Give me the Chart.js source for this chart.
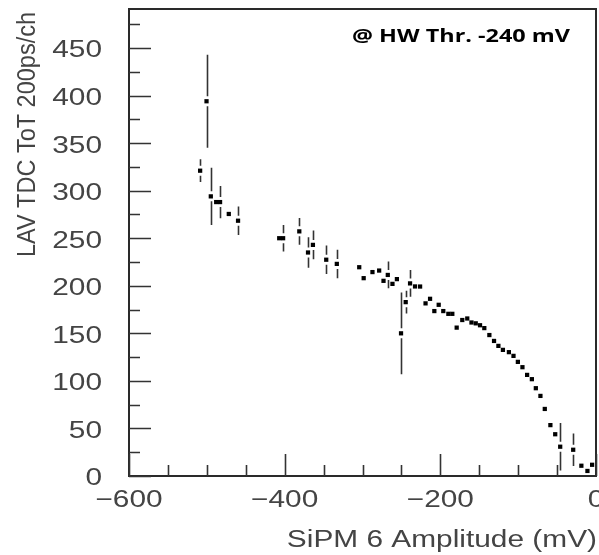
<!DOCTYPE html>
<html>
<head>
<meta charset="utf-8">
<script src="https://cdn.jsdelivr.net/npm/chart.js@4"></script>
<style>
  body { margin: 0; background: #fff; }
  #wrap { width: 599px; height: 555px; }
</style>
</head>
<body>
<div id="wrap"><canvas id="totChart" width="599" height="555"></canvas></div>
<script>
// SiPM amplitude (mV) vs mean ToT
const amp = [-508.6, -500.4, -494.9, -488, -483, -471.8, -459.9,
  -407, -402, -381.2, -370, -363.7, -346.6, -333,
  -304.2, -298.5, -287.2, -278.6, -273, -267.5, -261.5, -255.8, -250.5, -244.5, -238.9,
  -232.5, -226, -219, -213.2, -207.7, -202.1, -196.2, -189.7, -184.6, -179,
  -171.8, -165.4, -160, -154.5, -149, -143.5, -137, -131, -125.4, -119.6,
  -111.9, -106, -100.4, -94.5, -88.5, -82.4, -77.3, -71.4, -65.8,
  -58.6, -52.4, -46, -29.3, -18.8, -11, -5];
const tot = [321, 394, 294, 288, 288, 275.5, 268.4,
  250, 250, 257.2, 235, 243, 227.4, 223,
  219.5, 208, 214.4, 216, 205.2, 211.4, 202, 207, 150, 182.8, 202.5,
  199.3, 199.2, 181.5, 186.3, 173.4, 180, 173.4, 170.5, 170.5, 156,
  164, 165.6, 161.4, 160.5, 158.5, 155.5, 148.2, 142, 136.8, 132.6,
  130.2, 126.3, 120, 114.4, 106.3, 101.8, 92.3, 84.2, 70.5,
  53.5, 43.9, 30.8, 27.6, 10.8, 5.3, 11.8];
const totErr = [12, 49, 30, 4, 17, 3, 15,
  4, 14, 14, 16, 15, 15, 15,
  2, 2, 2, 2, 2, 14, 2, 2, 43, 12, 14,
  2, 2, 2, 2, 2, 2, 2, 2, 2, 2,
  2, 2, 2, 2, 2, 2, 2, 2, 2, 2,
  2, 2, 2, 2, 2, 2, 2, 2, 2,
  5, 3, 25, 17, 2, 2, 2];

const xTickLabels = [-600, -400, -200, 0];
const yTickLabels = [0, 50, 100, 150, 200, 250, 300, 350, 400, 450];
const xTitle = 'SiPM 6 Amplitude (mV)';
const yTitle = 'LAV TDC ToT 200ps/ch';
const note = '@ HW Thr. -240 mV';

const points = amp.map((a, i) => ({x: a, y: tot[i]}));

// the original picture is stretched sideways, so is its text
const stretch = 1.27;
const labelFont = '23.5px "Liberation Sans", Arial, sans-serif';

function wideText(ctx, s, x, y, sx) {
  ctx.save();
  ctx.translate(x, y);
  ctx.scale(sx, 1);
  ctx.fillText(s, 0, 0);
  ctx.restore();
}

// ROOT-like frame, inward ticks, labels and error bars
const rootStyle = {
  id: 'rootStyle',
  beforeDatasetsDraw(chart) {
    const {ctx, chartArea: ca, scales: {x, y}} = chart;
    ctx.save();
    // error bars with a gap round the marker
    ctx.strokeStyle = '#333';
    ctx.lineWidth = 1.6;
    const gap = 5;
    points.forEach((p, i) => {
      const px = Math.round(x.getPixelForValue(p.x)) + 0.5;
      const py = y.getPixelForValue(p.y);
      const top = y.getPixelForValue(p.y + totErr[i]);
      const bot = Math.min(y.getPixelForValue(p.y - totErr[i]), ca.bottom);
      ctx.beginPath();
      if (py - top > gap) { ctx.moveTo(px, top); ctx.lineTo(px, py - gap); }
      if (bot - py > gap) { ctx.moveTo(px, py + gap); ctx.lineTo(px, bot); }
      ctx.stroke();
    });
    ctx.restore();
  },
  afterDraw(chart) {
    const {ctx, chartArea: ca, scales: {x, y}} = chart;
    ctx.save();
    ctx.strokeStyle = '#2a2a2a';
    ctx.lineWidth = 2;
    ctx.strokeRect(ca.left, ca.top, ca.right - ca.left, ca.bottom - ca.top);

    ctx.strokeStyle = '#333';
    ctx.lineWidth = 1.6;
    ctx.beginPath();
    // y ticks every 25, long every 50
    for (let v = 0; v <= y.max; v += 25) {
      const py = Math.round(y.getPixelForValue(v)) + 0.5;
      const len = v % 50 === 0 ? 22 : 11;
      ctx.moveTo(ca.left, py); ctx.lineTo(ca.left + len, py);
    }
    // x ticks every 50, long every 200
    for (let v = x.min; v <= x.max; v += 50) {
      const px = Math.round(x.getPixelForValue(v)) + 0.5;
      const len = v % 200 === 0 ? 22 : 11;
      ctx.moveTo(px, ca.bottom); ctx.lineTo(px, ca.bottom - len);
    }
    ctx.stroke();

    ctx.fillStyle = '#444';
    ctx.font = labelFont;
    ctx.textAlign = 'right';
    ctx.textBaseline = 'middle';
    yTickLabels.forEach(v => {
      wideText(ctx, String(v), 102, y.getPixelForValue(v) + 3, stretch);
    });
    ctx.textAlign = 'center';
    ctx.textBaseline = 'top';
    xTickLabels.forEach(v => {
      const s = v < 0 ? '\u2212' + Math.abs(v) : String(v);
      wideText(ctx, s, x.getPixelForValue(v), 489, stretch);
    });

    // axis titles, aligned to the end like ROOT
    ctx.textAlign = 'right';
    ctx.textBaseline = 'alphabetic';
    wideText(ctx, xTitle, 597, 547, stretch);
    ctx.translate(35, 12);
    ctx.rotate(-Math.PI / 2);
    ctx.scale(1, 1.1);
    ctx.fillText(yTitle, 0, 0);
    ctx.restore();

    ctx.save();
    ctx.fillStyle = '#000';
    ctx.font = 'bold 18px "Open Sans", "Liberation Sans", sans-serif';
    ctx.textAlign = 'left';
    ctx.textBaseline = 'middle';
    const w = ctx.measureText(note).width;
    wideText(ctx, note, 352, 37, 218 / w);
    ctx.restore();
  }
};

new Chart(document.getElementById('totChart'), {
  type: 'scatter',
  data: {
    datasets: [{
      data: points,
      pointStyle: 'rect',
      pointRadius: 3,
      pointHoverRadius: 3,
      pointBorderWidth: 0,
      backgroundColor: '#000',
      borderColor: '#000'
    }]
  },
  options: {
    responsive: false,
    animation: false,
    events: [],
    layout: { padding: { left: 129, right: 2, top: 9, bottom: 79 } },
    plugins: { legend: { display: false }, tooltip: { enabled: false } },
    scales: {
      x: { type: 'linear', min: -600, max: 0, display: false },
      y: { type: 'linear', min: 0, max: 491, display: false }
    }
  },
  plugins: [rootStyle]
});
</script>
</body>
</html>
